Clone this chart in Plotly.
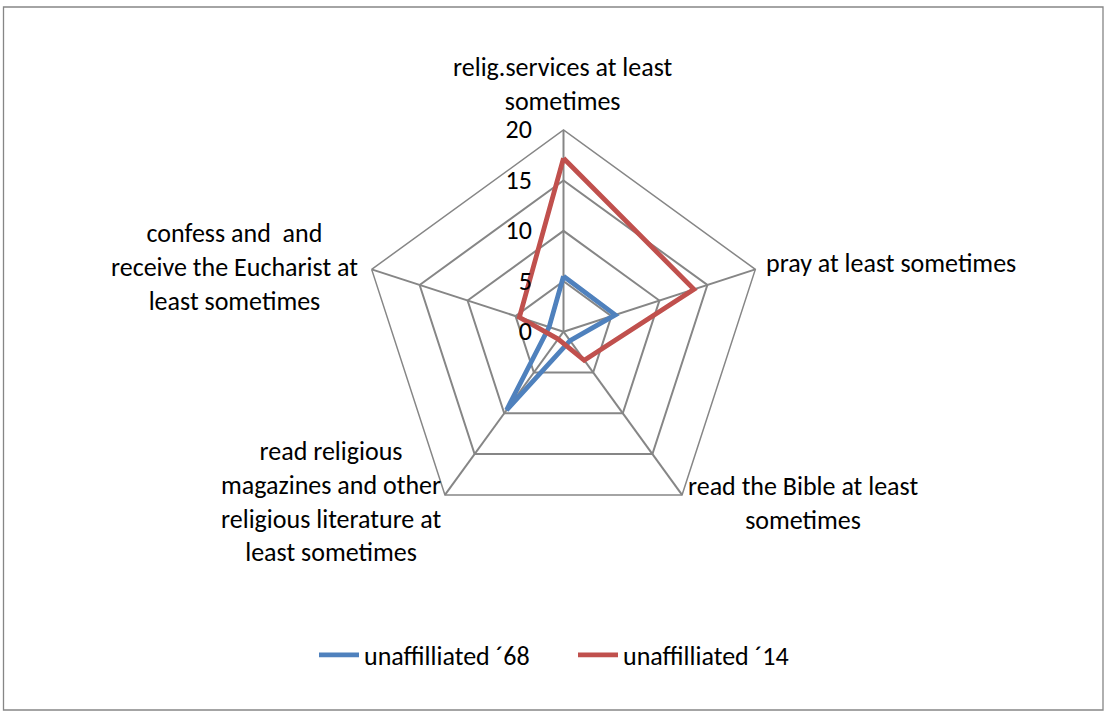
import plotly.graph_objects as go

# Share (%) of respondents, by religious practice
categories = [
    "relig.services at least sometimes",
    "pray at least sometimes",
    "read the Bible at least sometimes",
    "read religious magazines and other religious literature at least sometimes",
    "confess and  and receive the Eucharist at least sometimes",
]
unaffiliated_68 = [5.5, 5.4, 1.1, 9.6, 1.5]
unaffiliated_14 = [17.2, 13.6, 3.5, 0.9, 4.6]
series_names = ["unaffilliated \u00b468", "unaffilliated \u00b414"]
radial_ticks = [0, 5, 10, 15, 20]

# Wrapped label text shown beside each spoke
label_lines = [
    "relig.services at least<br>sometimes",
    "pray at least sometimes",
    "read the Bible at least<br>sometimes",
    "read religious<br>magazines and other<br>religious literature at<br>least sometimes",
    "confess and  and<br>receive the Eucharist at<br>least sometimes",
]

W, H = 1106, 715
FONT = "Carlito, Lato, sans-serif"
FS = 26
GRID = "#868686"
BLUE = "#4F81BD"
RED = "#C0504D"

cx, cy, R = 563.5, 331.7, 201.7


def px(x):
    return x / W


def py(y):
    return 1 - y / H


def closed(v):
    return v + v[:1]


fig = go.Figure()
fig.add_trace(go.Scatterpolar(
    r=closed(unaffiliated_68), theta=closed(categories), mode="lines",
    name=series_names[0], line=dict(color=BLUE, width=4.8),
))
fig.add_trace(go.Scatterpolar(
    r=closed(unaffiliated_14), theta=closed(categories), mode="lines",
    name=series_names[1], line=dict(color=RED, width=4.8),
))

# Category labels: (text, x, y, xanchor, yanchor) in pixels
label_pos = [
    (label_lines[0], 563, 119, "center", "bottom"),
    (label_lines[1], 764, 263, "left", "middle"),
    (label_lines[2], 686, 468, "left", "top"),
    (label_lines[3], 443, 501, "right", "middle"),
    (label_lines[4], 360, 267, "right", "middle"),
]
annotations = [
    dict(text=t, x=px(x), y=py(y), xref="paper", yref="paper",
         xanchor=xa, yanchor=ya, align="center", showarrow=False,
         font=dict(family=FONT, size=FS, color="black"))
    for t, x, y, xa, ya in label_pos
]

fig.update_layout(
    width=W, height=H,
    margin=dict(l=0, r=0, t=0, b=0),
    paper_bgcolor="white",
    font=dict(family=FONT, size=FS, color="black"),
    polar=dict(
        domain=dict(x=[px(cx - R), px(cx + R)], y=[py(cy + R), py(cy - R)]),
        bgcolor="white",
        gridshape="linear",
        radialaxis=dict(
            range=[0, 20], tickvals=radial_ticks, angle=90,
            side="counterclockwise", tickangle=90,
            showline=False, showgrid=True, gridcolor=GRID, gridwidth=1.5,
            ticks="outside", ticklen=22, tickcolor="rgba(0,0,0,0)",
            tickfont=dict(family=FONT, size=FS, color="black"),
        ),
        angularaxis=dict(
            direction="clockwise", rotation=90,
            showticklabels=False, ticks="",
            showline=True, linecolor=GRID, linewidth=1.5,
            showgrid=True, gridcolor=GRID, gridwidth=1.5,
        ),
    ),
    showlegend=True,
    legend=dict(
        orientation="h", x=px(314), y=py(655), xanchor="left", yanchor="middle",
        font=dict(family=FONT, size=FS, color="black"),
        itemwidth=40, tracegroupgap=0,
        entrywidth=204, entrywidthmode="pixels",
    ),
    annotations=annotations,
    shapes=[dict(type="rect", xref="paper", yref="paper",
                 x0=px(3.5), x1=px(1103), y0=py(710), y1=py(7),
                 line=dict(color=GRID, width=1.3))],
)

fig.write_html("out.html")
